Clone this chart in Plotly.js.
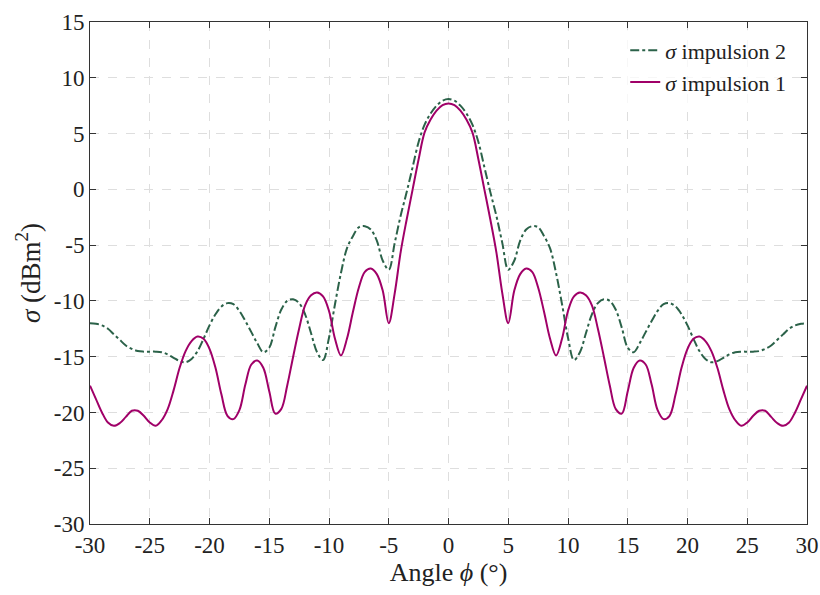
<!DOCTYPE html>
<html>
<head>
<meta charset="utf-8">
<script src="https://cdn.plot.ly/plotly-3.0.1.min.js"></script>
</head>
<body style="margin:0">
<div id="chart" style="width:820px;height:595px"></div>
<script>
// Angle (degrees), step 0.5 from -30 to 30
var angles = [];
for (var i = 0; i <= 120; i++) angles.push(-30 + i * 0.5);

var sigmaImpulsion1 = [
  -17.6, -18.8, -20.0, -20.9, -21.2, -20.95, -20.4, -19.85, -19.85, -20.3,
  -20.9, -21.2, -20.7, -19.7, -18.0, -16.0, -14.5, -13.6, -13.2, -13.4,
  -14.3, -16.0, -18.4, -20.3, -20.6, -19.8, -17.5, -15.7, -15.35, -16.0,
  -18.1, -20.1, -19.7, -17.6, -15.0, -12.5, -10.4, -9.5, -9.25, -9.6,
  -10.9, -13.4, -14.9, -13.4, -11.0, -8.8, -7.4, -7.1, -7.6, -9.1,
  -12.0, -9.3, -5.6, -2.7, 0.0, 2.7, 5.1, 6.25, 7.05, 7.55,
  7.7,
  7.55, 7.05, 6.25, 5.1, 2.7, 0.0, -2.7, -5.6, -9.3, -12.0,
  -9.1, -7.6, -7.1, -7.4, -8.8, -11.0, -13.4, -14.9, -13.4, -10.9,
  -9.6, -9.25, -9.5, -10.4, -12.5, -15.0, -17.6, -19.7, -20.1, -18.1,
  -16.0, -15.35, -15.7, -17.5, -19.8, -20.6, -20.3, -18.4, -16.0, -14.3,
  -13.4, -13.2, -13.6, -14.5, -16.0, -18.0, -19.7, -20.7, -21.2, -20.9,
  -20.3, -19.85, -19.85, -20.4, -20.95, -21.2, -20.9, -20.0, -18.8, -17.6
];

var sigmaImpulsion2 = [
  -12.0, -12.05, -12.2, -12.5, -13.0, -13.5, -14.0, -14.3, -14.5, -14.55,
  -14.55, -14.55, -14.6, -14.8, -15.1, -15.4, -15.5, -15.2, -14.5, -13.4,
  -12.2, -11.2, -10.5, -10.2, -10.3, -10.9, -11.8, -12.8, -13.8, -14.6,
  -14.2, -12.4, -10.8, -10.0, -9.85, -10.2, -11.2, -12.9, -14.6, -15.3,
  -13.3, -10.3, -7.5, -5.3, -4.2, -3.4, -3.3, -3.6, -4.6, -6.4,
  -7.2, -4.8, -2.35, -0.25, 2.0, 4.25, 5.8, 6.8, 7.5, 7.95,
  8.1,
  7.95, 7.5, 6.8, 5.8, 4.25, 2.0, -0.25, -2.35, -4.8, -7.2,
  -6.4, -4.6, -3.6, -3.3, -3.4, -4.2, -5.3, -7.5, -10.3, -13.3,
  -15.3, -14.6, -12.9, -11.2, -10.2, -9.85, -10.0, -10.8, -12.4, -14.2,
  -14.6, -13.8, -12.8, -11.8, -10.9, -10.3, -10.2, -10.5, -11.2, -12.2,
  -13.4, -14.5, -15.2, -15.5, -15.4, -15.1, -14.8, -14.6, -14.55, -14.55,
  -14.55, -14.5, -14.3, -14.0, -13.5, -13.0, -12.5, -12.2, -12.05, -12.0
];

var xTicks = [-30, -25, -20, -15, -10, -5, 0, 5, 10, 15, 20, 25, 30];
var yTicks = [-30, -25, -20, -15, -10, -5, 0, 5, 10, 15];

var traces = [
  {
    x: angles, y: sigmaImpulsion2, type: 'scatter', mode: 'lines',
    name: '<i>σ</i> impulsion 2',
    line: {color: '#2b6249', width: 2, dash: 'dashdot', shape: 'spline', smoothing: 1}
  },
  {
    x: angles, y: sigmaImpulsion1, type: 'scatter', mode: 'lines',
    name: '<i>σ</i> impulsion 1',
    line: {color: '#a00068', width: 2, shape: 'spline', smoothing: 1}
  }
];

var layout = {
  width: 820, height: 595,
  margin: {l: 90, r: 13, t: 22, b: 71},
  font: {family: 'Liberation Serif', size: 23, color: '#222'},
  showlegend: true,
  legend: {
    x: 0.978, y: 0.985, xanchor: 'right', yanchor: 'top',
    bgcolor: 'rgba(255,255,255,0.75)', borderwidth: 0,
    font: {family: 'Liberation Serif', size: 22, color: '#222'},
    tracegroupgap: 0
  },
  xaxis: {
    range: [-30, 30], tickvals: xTicks, ticktext: xTicks.map(String),
    showline: true, linecolor: '#333', linewidth: 1, mirror: 'ticks',
    ticks: 'inside', ticklen: 6, tickcolor: '#333',
    showgrid: true, gridcolor: '#dedede', griddash: 'dash', gridwidth: 1,
    zeroline: false,
    tickfont: {family: 'Liberation Serif', size: 23, color: '#222'},
    title: {text: 'Angle <i>ϕ</i> (°)', font: {family: 'Liberation Serif', size: 26, color: '#222'}, standoff: 5}
  },
  yaxis: {
    range: [-30, 15], tickvals: yTicks, ticktext: yTicks.map(String),
    showline: true, linecolor: '#333', linewidth: 1, mirror: 'ticks',
    ticks: 'inside', ticklen: 6, tickcolor: '#333',
    showgrid: true, gridcolor: '#dedede', griddash: 'dash', gridwidth: 1,
    zeroline: false,
    tickfont: {family: 'Liberation Serif', size: 23, color: '#222'},
    title: {text: '<i>σ</i> (dBm<sup>2</sup>)', font: {family: 'Liberation Serif', size: 27, color: '#222'}, standoff: 5}
  }
};

Plotly.newPlot('chart', traces, layout, {displayModeBar: false});
</script>
</body>
</html>
